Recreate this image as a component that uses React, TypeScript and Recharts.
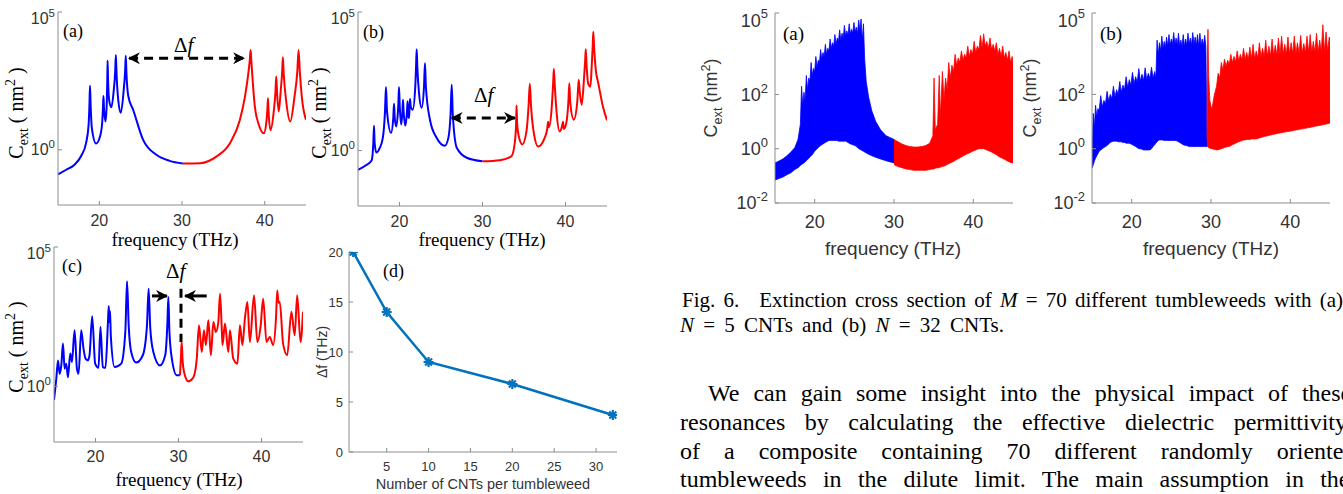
import React from 'react';
import { ComposedChart, LineChart, Line, Area, XAxis, YAxis, ReferenceLine } from 'recharts';

// ---------- axis ticks ----------
const freqTicks = [20, 30, 40];
const logTicksSmall = [1, 100000];
const logTicksFig6 = [0.01, 1, 100, 100000];
const cntTicks = [5, 10, 15, 20, 25, 30];
const dfTicks = [0, 5, 10, 15, 20];

// ---------- Fig. (a): N = 1 tumbleweed, [THz, C_ext] ----------
const aBlue: [number, number][] = [
  [15, 0.13], [16, 0.19], [17, 0.29], [17.8, 0.6], [18.4, 1.8], [18.7, 8], [18.8, 40], [18.87, 210], [18.95, 40],
  [19.1, 6], [19.6, 1.7], [20.1, 3.2], [20.35, 10], [20.45, 40], [20.5, 90], [20.57, 30], [20.75, 10.7], [20.9, 50],
  [20.96, 300], [21.0, 1740], [21.06, 300], [21.2, 60], [21.45, 35], [21.75, 150], [21.92, 700], [22.0, 2750],
  [22.08, 600], [22.3, 60], [22.6, 22], [22.95, 150], [23.12, 700], [23.2, 2570], [23.28, 600], [23.5, 90],
  [24.1, 28], [25.3, 2.3], [26.9, 0.66], [28.5, 0.4], [30.1, 0.32],
];
const aRed: [number, number][] = [
  [30.1, 0.32], [32.2, 0.33], [34.2, 0.58], [35.8, 1.74], [37.0, 12], [37.6, 80], [37.95, 400], [38.2, 1800],
  [38.3, 4170], [38.4, 1500], [38.6, 200], [38.8, 40], [39.3, 8], [39.9, 4], [40.2, 10], [40.33, 30], [40.4, 74],
  [40.47, 25], [40.7, 5.2], [41.1, 25], [41.3, 120], [41.4, 457], [41.5, 120], [41.7, 24.5], [41.95, 150],
  [42.12, 700], [42.2, 2290], [42.3, 600], [42.6, 60], [43.1, 10.7], [43.6, 80], [43.95, 700], [44.1, 4170],
  [44.25, 700], [44.5, 80], [45, 12.3],
];

// ---------- Fig. (b) ----------
const bBlue: [number, number][] = [
  [15, 0.2], [16.0, 0.3], [16.65, 0.45], [16.85, 2], [16.93, 7.9], [17.0, 2], [17.2, 0.85], [17.6, 1.2], [18.0, 3],
  [18.25, 25], [18.37, 195], [18.5, 25], [18.98, 4.4], [19.25, 15], [19.34, 49], [19.43, 15], [19.6, 7.4],
  [19.85, 40], [19.94, 195], [20.03, 40], [20.2, 8.7], [20.35, 25], [20.42, 68], [20.5, 25], [20.7, 8], [20.9, 25],
  [20.97, 60], [21.05, 20], [21.15, 15], [21.22, 40], [21.27, 72], [21.35, 40], [21.6, 30], [21.9, 200],
  [22.0, 1200], [22.07, 4570], [22.15, 1000], [22.35, 120], [22.67, 35], [22.95, 200], [23.07, 1410],
  [23.18, 200], [23.67, 13], [24.47, 2.9], [25.47, 1.5], [25.9, 3], [26.15, 20], [26.29, 235], [26.42, 20],
  [26.9, 1.26], [28.1, 0.55], [30.0, 0.41],
];
const bRed: [number, number][] = [
  [30.0, 0.41], [32.1, 0.45], [33.5, 0.63], [33.9, 2], [34.05, 10], [34.1, 42], [34.17, 10], [34.4, 3],
  [34.8, 1.66], [35.3, 5], [35.55, 40], [35.7, 257], [35.85, 40], [36.2, 4], [36.7, 1.4], [37.4, 2.5], [37.8, 6],
  [37.9, 11], [38.0, 7], [38.35, 40], [38.52, 300], [38.6, 870], [38.7, 250], [38.95, 20], [39.3, 4.9],
  [39.6, 8], [39.7, 11], [39.8, 6], [40.1, 10], [40.35, 60], [40.46, 270], [40.56, 60], [41.0, 13], [41.4, 50],
  [41.53, 200], [41.6, 355], [41.7, 150], [41.95, 45], [42.25, 500], [42.38, 2000], [42.44, 4570],
  [42.52, 1500], [42.75, 250], [43.0, 200], [43.15, 1000], [43.28, 6000], [43.35, 19500], [43.45, 5000],
  [43.65, 800], [43.95, 270], [44.5, 40], [45, 12.3],
];

// ---------- Fig. (c) ----------
const cBlue: [number, number][] = [
  [15, 0.32], [15.28, 1.9], [15.48, 8.5], [15.68, 2.8], [15.88, 5.6], [16.08, 34], [16.28, 4.3], [16.48, 6.5],
  [16.68, 2.1], [16.96, 15], [17.16, 7.5], [17.48, 102], [17.76, 4.3], [17.96, 2.8], [18.28, 102], [18.56, 22],
  [18.8, 9.8], [19.08, 8.5], [19.28, 13], [19.6, 330], [19.96, 6.5], [20.36, 4.6], [20.6, 135], [20.88, 4.9],
  [21.2, 4.6], [21.5, 200], [21.6, 760], [21.68, 200], [21.75, 500], [21.85, 60], [22.3, 4.9], [23.1, 6.5],
  [23.6, 100], [23.8, 5900], [24.0, 150], [24.3, 17], [24.9, 7.1], [25.7, 13], [26.2, 150], [26.4, 3200],
  [26.6, 120], [26.97, 17], [27.77, 5.6], [28.4, 13], [28.65, 150], [28.78, 1600], [28.9, 100], [29.2, 9.8],
  [29.78, 2.5], [30.18, 2.5],
];
const cRed: [number, number][] = [
  [30.18, 2.5], [30.3, 12], [30.38, 39], [30.5, 8], [30.66, 3.3], [31.18, 1.5], [31.8, 2.1], [32.2, 9.8],
  [32.47, 155], [32.8, 17], [33.07, 102], [33.3, 30], [33.6, 234], [33.9, 13], [34.2, 204], [34.5, 89],
  [34.8, 200], [35.0, 2100], [35.2, 150], [35.3, 30], [35.6, 178], [36.0, 17], [36.2, 102], [36.6, 9.8],
  [37.1, 6.5], [37.4, 155], [37.7, 30], [38.0, 270], [38.3, 1070], [38.6, 39], [39.1, 1860], [39.5, 39],
  [39.9, 150], [40.2, 1400], [40.6, 39], [41.0, 59], [41.4, 30], [41.75, 300], [41.9, 2750], [42.05, 1000],
  [42.2, 1070], [42.6, 34], [43.1, 13], [43.6, 470], [44.0, 68], [44.3, 1860], [44.7, 39], [45, 470],
];

// ---------- Fig. (d) ----------
const cntCounts = [1, 5, 10, 20, 32];
const deltaF = [20, 14, 9, 6.8, 3.7];

// ---------- Fig. 6: envelopes of the 70 curves, [THz, low, high] ----------
const f6aBlue: [number, number, number][] = [
  [15.0, 0.07, 0.3], [15.5, 0.08, 0.35], [16.0, 0.09, 0.42], [16.5, 0.11, 0.55], [17.0, 0.13, 0.75],
  [17.5, 0.17, 1.1], [17.9, 0.2, 2.2], [18.2, 0.24, 8], [18.35, 0.26, 200], [18.5, 0.28, 40], [18.65, 0.3, 120],
  [18.8, 0.33, 60], [18.95, 0.36, 500], [19.1, 0.4, 150], [19.25, 0.44, 400], [19.4, 0.5, 300],
  [19.55, 0.55, 1500], [19.7, 0.6, 500], [19.85, 0.7, 900], [20.0, 0.8, 700], [20.15, 0.9, 2500],
  [20.3, 1.0, 1000], [20.45, 1.1, 1800], [20.6, 1.2, 1500], [20.75, 1.3, 4500], [20.9, 1.4, 2000],
  [21.05, 1.5, 3500], [21.2, 1.6, 2500], [21.35, 1.7, 7000], [21.5, 1.8, 3000], [21.65, 1.9, 5000],
  [21.8, 2.0, 4000], [21.95, 2.0, 11000], [22.1, 2.0, 5000], [22.25, 2.0, 8000], [22.4, 2.0, 6000],
  [22.55, 2.0, 16000], [22.7, 2.0, 7000], [22.85, 2.0, 12000], [23.0, 1.9, 9000], [23.15, 1.9, 24000],
  [23.3, 1.9, 10000], [23.45, 1.9, 18000], [23.6, 1.9, 12000], [23.75, 1.9, 35000], [23.9, 1.9, 14000],
  [24.05, 1.8, 22000], [24.2, 1.7, 15000], [24.35, 1.6, 40000], [24.5, 1.5, 17000], [24.65, 1.45, 25000],
  [24.8, 1.4, 18000], [24.95, 1.35, 45000], [25.1, 1.3, 20000], [25.25, 1.2, 30000], [25.4, 1.1, 18000],
  [25.55, 1.0, 55000], [25.7, 0.95, 22000], [25.85, 0.9, 60000], [26.0, 0.85, 10000], [26.15, 0.8, 40000],
  [26.3, 0.75, 2000], [26.5, 0.7, 300], [26.8, 0.62, 80], [27.2, 0.55, 25], [27.7, 0.48, 10], [28.3, 0.42, 5],
  [29.0, 0.36, 3], [30.0, 0.3, 2.2],
];
const f6aRed: [number, number, number][] = [
  [30.0, 0.26, 2.2], [30.5, 0.22, 1.8], [31.0, 0.2, 1.5], [31.5, 0.18, 1.3], [32.0, 0.17, 1.2],
  [32.5, 0.16, 1.15], [33.0, 0.16, 1.15], [33.5, 0.16, 1.2], [34.0, 0.16, 1.3], [34.5, 0.17, 1.6],
  [34.9, 0.18, 3], [35.05, 0.18, 400], [35.2, 0.19, 5], [35.5, 0.2, 8], [35.7, 0.2, 500], [35.85, 0.21, 15],
  [36.1, 0.22, 700], [36.3, 0.23, 60], [36.5, 0.24, 400], [36.7, 0.26, 150], [36.9, 0.28, 1500],
  [37.1, 0.3, 400], [37.3, 0.32, 1200], [37.5, 0.34, 700], [37.7, 0.37, 3000], [37.9, 0.4, 1200],
  [38.1, 0.43, 2200], [38.3, 0.46, 1500], [38.5, 0.5, 4000], [38.7, 0.54, 1800], [38.9, 0.58, 3000],
  [39.1, 0.62, 2200], [39.3, 0.66, 6000], [39.5, 0.7, 2500], [39.7, 0.75, 4500], [39.9, 0.8, 3000],
  [40.1, 0.85, 9000], [40.3, 0.9, 3500], [40.5, 0.95, 6000], [40.7, 1.0, 4500], [40.9, 1.0, 15000],
  [41.1, 1.0, 5000], [41.3, 1.0, 17000], [41.5, 0.95, 6000], [41.7, 0.9, 9000], [41.9, 0.85, 5000],
  [42.1, 0.8, 12000], [42.3, 0.75, 4500], [42.5, 0.7, 7000], [42.7, 0.65, 4000], [42.9, 0.6, 8000],
  [43.1, 0.55, 3000], [43.3, 0.5, 5000], [43.5, 0.47, 2500], [43.7, 0.44, 6000], [43.9, 0.41, 2200],
  [44.1, 0.38, 3500], [44.3, 0.35, 1800], [44.5, 0.33, 4000], [44.7, 0.31, 1500], [44.9, 0.3, 2500],
  [45.0, 0.3, 1500],
];
const f6bBlue: [number, number, number][] = [
  [15.0, 0.19, 0.25], [15.15, 0.25, 20], [15.3, 0.35, 6], [15.45, 0.45, 40], [15.6, 0.55, 15],
  [15.75, 0.65, 30], [15.9, 0.8, 25], [16.1, 0.9, 90], [16.3, 1.0, 35], [16.5, 1.1, 60], [16.7, 1.2, 45],
  [16.9, 1.3, 130], [17.1, 1.5, 55], [17.3, 1.7, 100], [17.5, 1.8, 70], [17.7, 1.9, 200], [17.9, 1.9, 80],
  [18.1, 1.9, 150], [18.3, 1.8, 100], [18.5, 1.8, 300], [18.7, 1.8, 120], [18.9, 1.7, 220], [19.1, 1.7, 150],
  [19.3, 1.6, 450], [19.5, 1.6, 180], [19.7, 1.6, 350], [19.9, 1.5, 220], [20.1, 1.4, 650], [20.3, 1.3, 250],
  [20.5, 1.2, 450], [20.7, 1.1, 280], [20.9, 1.0, 900], [21.1, 1.0, 300], [21.3, 0.95, 550], [21.5, 0.9, 320],
  [21.7, 0.9, 950], [21.9, 0.9, 350], [22.1, 0.9, 600], [22.3, 0.9, 380], [22.5, 1.0, 1000], [22.7, 1.2, 400],
  [22.9, 1.4, 700], [23.05, 1.6, 400], [23.2, 1.8, 10000], [23.35, 2.0, 3000], [23.5, 2.1, 8000],
  [23.65, 2.1, 4000], [23.8, 2.1, 14000], [23.95, 2.1, 5000], [24.1, 2.0, 9000], [24.25, 2.0, 5500],
  [24.4, 2.0, 13000], [24.55, 2.0, 6000], [24.7, 2.0, 16000], [24.85, 2.0, 6500], [25.0, 2.0, 11000],
  [25.15, 2.0, 7000], [25.3, 2.0, 19000], [25.45, 2.0, 7000], [25.6, 2.0, 12000], [25.75, 1.9, 6500],
  [25.9, 1.8, 18000], [26.05, 1.7, 6000], [26.2, 1.6, 10000], [26.35, 1.5, 6000], [26.5, 1.4, 16000],
  [26.65, 1.35, 6000], [26.8, 1.3, 11000], [26.95, 1.3, 6500], [27.1, 1.25, 18000], [27.25, 1.2, 7000],
  [27.4, 1.2, 12000], [27.55, 1.2, 6500], [27.7, 1.2, 19000], [27.85, 1.2, 7000], [28.0, 1.2, 13000],
  [28.15, 1.2, 6500], [28.3, 1.2, 16000], [28.45, 1.2, 6000], [28.6, 1.2, 18000], [28.75, 1.2, 6500],
  [28.9, 1.2, 11000], [29.05, 1.2, 6000], [29.2, 1.2, 15000], [29.35, 1.2, 6000], [29.5, 1.2, 2],
];
const f6bRed: [number, number, number][] = [
  [29.5, 1.2, 2], [29.55, 1.2, 3000], [29.62, 1.15, 25000], [29.7, 1.1, 500], [29.85, 1.05, 60],
  [30.1, 1.0, 27], [30.4, 0.95, 90], [30.7, 0.9, 200], [30.9, 0.92, 600], [31.1, 0.95, 400], [31.3, 1.0, 1500],
  [31.5, 1.05, 800], [31.7, 1.1, 2000], [31.9, 1.15, 1100], [32.1, 1.2, 1800], [32.3, 1.2, 1300],
  [32.5, 1.3, 3000], [32.7, 1.4, 1500], [32.9, 1.5, 2500], [33.1, 1.6, 1600], [33.3, 1.7, 4000],
  [33.5, 1.8, 1700], [33.7, 1.9, 3000], [33.9, 2.0, 1800], [34.1, 2.1, 5000], [34.3, 2.1, 1900],
  [34.5, 2.2, 3500], [34.7, 2.2, 2000], [34.9, 2.2, 5500], [35.1, 2.3, 2000], [35.3, 2.3, 7000],
  [35.5, 2.3, 2100], [35.7, 2.3, 4000], [35.9, 2.4, 2200], [36.1, 2.5, 8000], [36.3, 2.6, 2300],
  [36.5, 2.7, 5000], [36.7, 2.8, 2400], [36.9, 2.9, 10000], [37.1, 3.0, 2500], [37.3, 3.1, 6000],
  [37.5, 3.2, 2600], [37.7, 3.3, 11000], [37.9, 3.4, 2700], [38.1, 3.5, 6500], [38.3, 3.6, 2800],
  [38.5, 3.7, 12000], [38.7, 3.8, 2900], [38.9, 3.9, 14000], [39.1, 4.0, 3000], [39.3, 4.1, 7000],
  [39.5, 4.2, 3000], [39.7, 4.3, 13000], [39.9, 4.4, 3100], [40.1, 4.5, 8000], [40.3, 4.6, 3200],
  [40.5, 4.8, 14000], [40.7, 4.9, 3200], [40.9, 5.0, 8000], [41.1, 5.1, 3300], [41.3, 5.3, 15000],
  [41.5, 5.4, 3300], [41.7, 5.5, 7500], [41.9, 5.7, 3400], [42.1, 5.8, 14000], [42.3, 6.0, 3500],
  [42.5, 6.1, 16000], [42.7, 6.3, 3500], [42.9, 6.5, 9000], [43.1, 6.7, 3600], [43.3, 6.9, 18000],
  [43.5, 7.0, 3600], [43.7, 7.2, 10000], [43.9, 7.4, 3700], [44.1, 7.6, 37000], [44.3, 7.8, 3700],
  [44.5, 8.1, 20000], [44.7, 8.4, 3800], [44.9, 8.7, 13000], [45.0, 8.9, 12000],
];

// annotation anchors [from THz, to THz, level]
const arrowA = [23.6, 37.5, 2100];
const arrowB = [26.3, 33.9, 15];
const arrowC = { right: [26.8, 28.6, 1750], left: [33.4, 30.8, 1750], gap: [30.3, 3200, 39] };

const BLUE = '#0000ff';
const RED = '#ff0000';
const MBLUE = '#0072bd';
const AXIS = '#8c8c8c';
const TXT = '#333';
const SERIF = '"Liberation Serif", "Times New Roman", serif';
const SANS = '"Liberation Sans", Arial, sans-serif';

const pts = (a: [number, number][]) => a.map(([f, v]) => ({ f, v }));
const band = (a: [number, number, number][]) => a.map(([f, lo, hi]) => ({ f, r: [lo, hi] }));
const dData = cntCounts.map((n, i) => ({ n, d: deltaF[i] }));

const YW = 60;
const MT = 10;
const MR = 10;
const XH = 40;

function PowTick(props: any) {
  const { x, y, payload, fs, top } = props;
  const exp = Math.round(Math.log10(payload.value));
  const shift = payload.value === top ? fs * 0.4 : 0;
  return (
    <text x={x} y={y + shift} dy="0.35em" textAnchor="end" fill={TXT} fontFamily={SANS} fontSize={fs}>
      10<tspan dy={-fs * 0.45} fontSize={fs * 0.72}>{exp}</tspan>
    </text>
  );
}

function NumTick(props: any) {
  const { x, y, payload, fs, anchor } = props;
  return (
    <text x={x} y={y} dy="0.35em" textAnchor={anchor || 'middle'} fill={TXT} fontFamily={SANS} fontSize={fs}>
      {payload.value}
    </text>
  );
}

function StarDot(props: any) {
  const { cx, cy } = props;
  const s = 5;
  const d = s * 0.7;
  return (
    <g stroke={MBLUE} strokeWidth={2.2}>
      <line x1={cx - s} y1={cy} x2={cx + s} y2={cy} />
      <line x1={cx} y1={cy - s} x2={cx} y2={cy + s} />
      <line x1={cx - d} y1={cy - d} x2={cx + d} y2={cy + d} />
      <line x1={cx - d} y1={cy + d} x2={cx + d} y2={cy - d} />
    </g>
  );
}

function FreqChart({ x0, x1, y0, y1, yTicks, fs, xOff, yOff, id, children }: any) {
  const w = x1 - x0 + YW + MR;
  const h = y1 - y0 + MT + XH;
  return (
    <div style={{ position: 'absolute', left: x0 - YW, top: y0 - MT }}>
      <ComposedChart width={w} height={h} margin={{ top: MT, right: MR, bottom: 0, left: 0 }}>
        <defs>
          <marker id={id} viewBox="0 0 10 10" refX="9" refY="5" markerWidth="4" markerHeight="4" orient="auto-start-reverse">
            <path d="M0,0 L10,5 L0,10 L3,5 z" fill="#000" />
          </marker>
        </defs>
        <XAxis dataKey="f" type="number" domain={[15, 45]} ticks={freqTicks} allowDataOverflow height={XH}
          tickSize={-4} tickMargin={4 + xOff} stroke={AXIS} tick={<NumTick fs={fs} />} />
        <XAxis xAxisId="top" orientation="top" dataKey="f" type="number" domain={[15, 45]} ticks={freqTicks}
          allowDataOverflow height={0} tickSize={-4} tick={false} stroke={AXIS} />
        <YAxis scale="log" type="number" domain={[0.01, 100000]} ticks={yTicks} allowDataOverflow width={YW}
          tickSize={-4} tickMargin={4 + yOff} stroke={AXIS} tick={<PowTick fs={fs} top={100000} />} />
        <YAxis yAxisId="right" orientation="right" scale="log" type="number" domain={[0.01, 100000]} ticks={yTicks}
          allowDataOverflow width={0} tickSize={-4} tick={false} stroke={AXIS} />
        {children}
      </ComposedChart>
    </div>
  );
}

function curve(data: [number, number][], color: string, key: string) {
  return (
    <Line key={key} data={pts(data)} dataKey="v" type="monotone" stroke={color} strokeWidth={2}
      dot={false} activeDot={false} isAnimationActive={false} />
  );
}

function bandArea(data: [number, number, number][], color: string, key: string) {
  return (
    <Area key={key} data={band(data)} dataKey="r" type="linear" stroke={color} strokeWidth={0.8}
      fill={color} fillOpacity={1} dot={false} activeDot={false} isAnimationActive={false} />
  );
}

function Txt({ x, y, fs, children, family = SERIF, style = {} }: any) {
  return (
    <div style={{ position: 'absolute', left: x, top: y, fontSize: fs, fontFamily: family, lineHeight: 1,
      whiteSpace: 'nowrap', color: '#000', ...style }}>
      {children}
    </div>
  );
}

function VLabel({ cx, cy, fs, family, children }: any) {
  return (
    <div style={{ position: 'absolute', left: cx, top: cy, transform: 'translate(-50%, -50%) rotate(-90deg)',
      fontSize: fs, fontFamily: family, whiteSpace: 'nowrap', lineHeight: 1, color: '#000' }}>
      {children}
    </div>
  );
}

function CLabel({ sans }: { sans?: boolean }) {
  return sans ? (
    <span>C<sub style={{ fontSize: '0.7em' }}>ext</sub> (nm<sup style={{ fontSize: '0.7em' }}>2</sup>)</span>
  ) : (
    <span>C<sub style={{ fontSize: '0.7em' }}>ext</sub> ( nm<sup style={{ fontSize: '0.7em' }}>2</sup> )</span>
  );
}

function DeltaF({ x, y }: { x: number; y: number }) {
  return (
    <Txt x={x} y={y} fs={21}>
      Δ<i>f</i>
    </Txt>
  );
}

export default function App() {
  return (
    <div style={{ position: 'absolute', left: 0, top: 0, width: 1343, height: 494, overflow: 'hidden', background: '#fff' }}>
      {/* (a) */}
      <FreqChart x0={58} x1={306} y0={12} y1={205} yTicks={logTicksSmall} fs={16} xOff={15} yOff={3} id="ahA">
        {curve(aBlue, BLUE, 'ab')}
        {curve(aRed, RED, 'ar')}
        <ReferenceLine segment={[{ x: arrowA[0], y: arrowA[2] }, { x: arrowA[1], y: arrowA[2] }]} stroke="#000"
          strokeWidth={3} strokeDasharray="9 6" markerStart="url(#ahA)" markerEnd="url(#ahA)" />
      </FreqChart>
      {/* (b) */}
      <FreqChart x0={358} x1={607} y0={12} y1={206} yTicks={logTicksSmall} fs={16} xOff={15} yOff={3} id="ahB">
        {curve(bBlue, BLUE, 'bb')}
        {curve(bRed, RED, 'br')}
        <ReferenceLine segment={[{ x: arrowB[0], y: arrowB[2] }, { x: arrowB[1], y: arrowB[2] }]} stroke="#000"
          strokeWidth={3} strokeDasharray="9 6" markerStart="url(#ahB)" markerEnd="url(#ahB)" />
      </FreqChart>
      {/* (c) */}
      <FreqChart x0={54} x1={303} y0={247} y1={442} yTicks={logTicksSmall} fs={16} xOff={14} yOff={3} id="ahC">
        {curve(cBlue, BLUE, 'cb')}
        {curve(cRed, RED, 'cr')}
        <ReferenceLine segment={[{ x: arrowC.right[0], y: arrowC.right[2] }, { x: arrowC.right[1], y: arrowC.right[2] }]}
          stroke="#000" strokeWidth={3} markerEnd="url(#ahC)" />
        <ReferenceLine segment={[{ x: arrowC.left[0], y: arrowC.left[2] }, { x: arrowC.left[1], y: arrowC.left[2] }]}
          stroke="#000" strokeWidth={3} markerEnd="url(#ahC)" />
        <ReferenceLine segment={[{ x: arrowC.gap[0], y: arrowC.gap[1] }, { x: arrowC.gap[0], y: arrowC.gap[2] }]}
          stroke="#000" strokeWidth={3} strokeDasharray="9 6" />
      </FreqChart>
      {/* (d) */}
      <div style={{ position: 'absolute', left: 349 - YW, top: 252 - MT }}>
        <LineChart width={617 - 349 + YW + MR} height={452 - 252 + MT + XH} data={dData}
          margin={{ top: MT, right: MR, bottom: 0, left: 0 }}>
          <XAxis dataKey="n" type="number" domain={[0.5, 32.5]} ticks={cntTicks} allowDataOverflow height={XH}
            tickSize={-4} tickMargin={18} stroke={AXIS} tick={<NumTick fs={13} />} />
          <XAxis xAxisId="top" orientation="top" dataKey="n" type="number" domain={[0.5, 32.5]} ticks={cntTicks}
            allowDataOverflow height={0} tickSize={-4} tick={false} stroke={AXIS} />
          <YAxis type="number" domain={[0, 20]} ticks={dfTicks} allowDataOverflow width={YW} tickSize={-4}
            tickMargin={10} stroke={AXIS} tick={<NumTick fs={13} anchor="end" />} />
          <YAxis yAxisId="right" orientation="right" type="number" domain={[0, 20]} ticks={dfTicks}
            allowDataOverflow width={0} tickSize={-4} tick={false} stroke={AXIS} />
          <Line dataKey="d" type="linear" stroke={MBLUE} strokeWidth={2.5} dot={<StarDot />} activeDot={false}
            isAnimationActive={false} />
        </LineChart>
      </div>
      {/* Fig. 6 (a) */}
      <FreqChart x0={775} x1={1013} y0={13} y1={203} yTicks={logTicksFig6} fs={18} xOff={19} yOff={7} id="ah6a">
        {bandArea(f6aBlue, BLUE, 'fab')}
        {bandArea(f6aRed, RED, 'far')}
      </FreqChart>
      {/* Fig. 6 (b) */}
      <FreqChart x0={1092} x1={1330} y0={13} y1={203} yTicks={logTicksFig6} fs={18} xOff={19} yOff={7} id="ah6b">
        {bandArea(f6bBlue, BLUE, 'fbb')}
        {bandArea(f6bRed, RED, 'fbr')}
      </FreqChart>

      {/* panel letters and annotations */}
      <Txt x={63} y={22} fs={18}>(a)</Txt>
      <Txt x={363} y={23} fs={18}>(b)</Txt>
      <Txt x={62} y={257} fs={18}>(c)</Txt>
      <Txt x={383} y={262} fs={18}>(d)</Txt>
      <Txt x={783} y={24} fs={19}>(a)</Txt>
      <Txt x={1100} y={24} fs={19}>(b)</Txt>
      <DeltaF x={174} y={35} />
      <DeltaF x={474} y={85} />
      <DeltaF x={166} y={261} />

      {/* axis titles */}
      <Txt x={175} y={239} fs={19} style={{ transform: 'translate(-50%, -50%)' }}>frequency (THz)</Txt>
      <Txt x={482} y={239} fs={19} style={{ transform: 'translate(-50%, -50%)' }}>frequency (THz)</Txt>
      <Txt x={179} y={479} fs={19} style={{ transform: 'translate(-50%, -50%)' }}>frequency (THz)</Txt>
      <Txt x={483} y={484} fs={14.5} family={SANS} style={{ transform: 'translate(-50%, -50%)', color: TXT }}>
        Number of CNTs per tumbleweed
      </Txt>
      <Txt x={893} y={248} fs={19} family={SANS} style={{ transform: 'translate(-50%, -50%)', color: TXT }}>
        frequency (THz)
      </Txt>
      <Txt x={1211} y={248} fs={19} family={SANS} style={{ transform: 'translate(-50%, -50%)', color: TXT }}>
        frequency (THz)
      </Txt>
      <VLabel cx={17} cy={113} fs={20} family={SERIF}><CLabel /></VLabel>
      <VLabel cx={320} cy={113} fs={20} family={SERIF}><CLabel /></VLabel>
      <VLabel cx={17} cy={347} fs={20} family={SERIF}><CLabel /></VLabel>
      <VLabel cx={322} cy={352} fs={14} family={SANS}><span style={{ color: TXT }}>Δf (THz)</span></VLabel>
      <VLabel cx={712} cy={98} fs={18} family={SANS}><span style={{ color: TXT }}><CLabel sans /></span></VLabel>
      <VLabel cx={1031} cy={98} fs={18} family={SANS}><span style={{ color: TXT }}><CLabel sans /></span></VLabel>

      {/* caption */}
      <Txt x={682} y={290} fs={21} style={{ wordSpacing: 3 }}>
        Fig. 6.<span style={{ marginLeft: 20 }}>Extinction cross section of <i>M</i> = 70 different tumbleweeds with (a)</span>
      </Txt>
      <Txt x={680} y={315} fs={21} style={{ wordSpacing: 4 }}>
        <i>N</i> = 5 CNTs and (b) <i>N</i> = 32 CNTs.
      </Txt>

      {/* body text */}
      <Txt x={708} y={381} fs={24} style={{ wordSpacing: 8 }}>We can gain some insight into the physical impact of these</Txt>
      <Txt x={680} y={410} fs={24} style={{ wordSpacing: 13.5 }}>resonances by calculating the effective dielectric permittivity</Txt>
      <Txt x={680} y={439} fs={24} style={{ wordSpacing: 18 }}>of a composite containing 70 different randomly oriented</Txt>
      <Txt x={680} y={467} fs={24} style={{ wordSpacing: 10.3 }}>tumbleweeds in the dilute limit. The main assumption in the</Txt>
    </div>
  );
}
